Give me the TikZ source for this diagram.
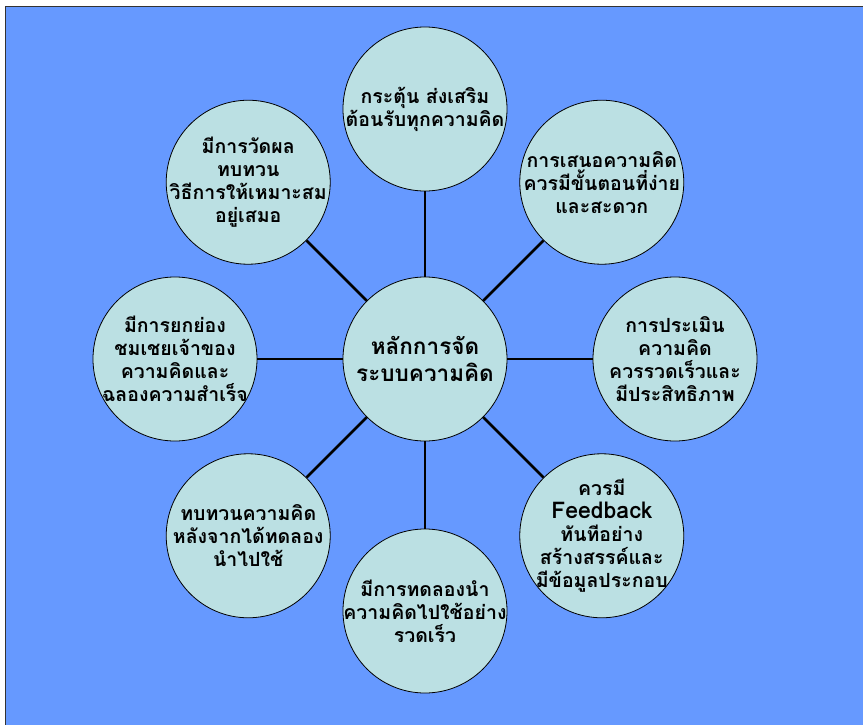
\documentclass[tikz,border=0pt]{standalone}
\usepackage{fontspec}
\newfontfamily\thaifont[Script=Thai]{Loma}
\definecolor{bgblue}{RGB}{102,153,255}
\definecolor{bubblefill}{RGB}{187,224,227}
\tikzset{
  bubble/.style={circle,draw=black,fill=bubblefill,line width=0.8pt,minimum size=164pt,inner sep=0pt},
  txt/.style={align=center,font=\thaifont\bfseries\fontsize{19.5}{23}\selectfont},
  hubtxt/.style={align=center,font=\thaifont\bfseries\fontsize{22.5}{27}\selectfont},
  idea/.style={bubble,label={[txt]center:{#1}}},
  spoke/.style={draw=black,line width=2.6pt}
}

\begin{document}
\begin{tikzpicture}[x=1pt,y=1pt]
  \useasboundingbox (-425,-365) rectangle (438,359);
  \fill[white] (-425,-365) rectangle (438,359);
  \fill[bgblue] (-420,-370) rectangle (445,353);
  \draw[black!80,line width=0.8pt] (-420,-370) -- (-420,353) -- (445,353);
  % hub
  \node[bubble,label={[hubtxt]center:{หลักการจัด\\ระบบความคิด}}] (hub) at (0,0) {};
  % ring of ideas
  \node[idea={กระตุ้น ส่งเสริม\\ต้อนรับทุกความคิด}] (welcome) at (90:250pt) {};
  \node[idea={การเสนอความคิด\\ควรมีขั้นตอนที่ง่าย\\และสะดวก}] (propose) at (45:250pt) {};
  \node[idea={การประเมิน\\ความคิด\\ควรรวดเร็วและ\\มีประสิทธิภาพ}] (assess) at (0:250pt) {};
  \node[idea={ควรมี\\{\fontsize{23}{23}\selectfont Feedback}\\ทันทีอย่าง\\สร้างสรรค์และ\\มีข้อมูลประกอบ}] (feedback) at (-45:250pt) {};
  \node[idea={มีการทดลองนำ\\ความคิดไปใช้อย่าง\\รวดเร็ว}] (trial) at (-90:252pt) {};
  \node[idea={ทบทวนความคิด\\หลังจากได้ทดลอง\\นำไปใช้}] (review) at (-135:250pt) {};
  \node[idea={มีการยกย่อง\\ชมเชยเจ้าของ\\ความคิดและ\\ฉลองความสำเร็จ}] (praise) at (180:250pt) {};
  \node[idea={มีการวัดผล\\ทบทวน\\วิธีการให้เหมาะสม\\อยู่เสมอ}] (measure) at (135:250pt) {};
  % spokes
  \draw[spoke] (hub) -- (welcome);
  \draw[spoke] (hub) -- (propose);
  \draw[spoke] (hub) -- (assess);
  \draw[spoke] (hub) -- (feedback);
  \draw[spoke] (hub) -- (trial);
  \draw[spoke] (hub) -- (review);
  \draw[spoke] (hub) -- (praise);
  \draw[spoke] (hub) -- (measure);
\end{tikzpicture}
\end{document}
